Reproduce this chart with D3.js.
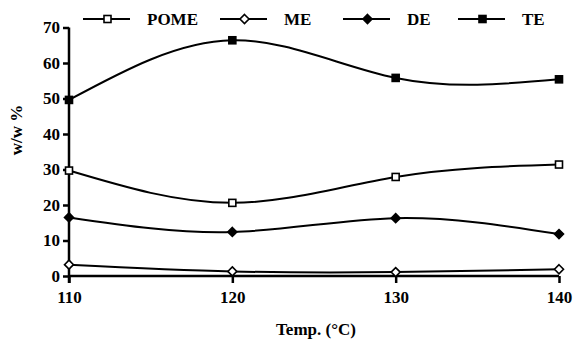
<!DOCTYPE html>
<html><head><meta charset="utf-8">
<script src="https://cdn.jsdelivr.net/npm/d3@7"></script>
</head><body style="margin:0;background:#fff"><svg id="c" width="576" height="341" style="display:block" font-family="Liberation Serif" font-weight="bold"></svg>
<script>
const temps = [110, 120, 130, 140];
const POME = [29.7, 20.6, 27.9, 31.4];
const ME = [3.2, 1.3, 1.1, 1.9];
const DE = [16.5, 12.4, 16.3, 11.8];
const TE = [49.6, 66.4, 55.8, 55.4];
const yTicks = [0, 10, 20, 30, 40, 50, 60, 70];
const xTicks = [110, 120, 130, 140];
const seriesNames = ["POME", "ME", "DE", "TE"];
const seriesData = [POME, ME, DE, TE];
const markers = ["openSquare", "openDiamond", "diamond", "square"];

const FF = "Liberation Serif";
const fsize = 17;
const svg = d3.select("#c");
const x = d3.scaleLinear().domain([110, 140]).range([69, 559]);
const y = d3.scaleLinear().domain([0, 70]).range([276, 27.5]);

function styleText(sel) {
  return sel.attr("font-family", FF).attr("font-weight", "bold").attr("font-size", fsize).attr("fill", "#000");
}

const ya = svg.append("g").attr("transform", "translate(69,0)")
  .call(d3.axisLeft(y).tickValues(yTicks).tickSize(6).tickPadding(3).tickFormat(d3.format("d")));
ya.select(".domain").attr("d", `M0,${y(70)}V${y(0)+7}`);
const xa = svg.append("g").attr("transform", "translate(0,276)")
  .call(d3.axisBottom(x).tickValues(xTicks).tickSize(7).tickPadding(8));
xa.select(".domain").attr("d", `M${x(110)},0H${x(140)}`);
ya.attr("font-family", FF).attr("font-size", fsize).attr("font-weight", "bold");
xa.attr("font-family", FF).attr("font-size", fsize).attr("font-weight", "bold");
styleText(svg.selectAll(".tick text"));
svg.selectAll(".domain, .tick line").attr("stroke", "#000").attr("stroke-width", 2.5);

styleText(svg.append("text").attr("x", 316).attr("y", 335).attr("text-anchor", "middle")).text("Temp. (°C)");
styleText(svg.append("text").attr("transform", "translate(22,130) rotate(-90)").attr("text-anchor", "middle")).text("w/w %");

const curveGen = d3.line().x((d, i) => x(temps[i])).y(d => y(d)).curve(d3.curveNatural);

function drawMarker(g, type, cx, cy) {
  if (type === "openSquare" || type === "square") {
    g.append("rect").attr("x", cx - 3.5).attr("y", cy - 3.5).attr("width", 7).attr("height", 7)
      .attr("fill", type === "square" ? "#000" : "#fff").attr("stroke", "#000").attr("stroke-width", 1.6);
  } else {
    const r = 4.5;
    g.append("path").attr("d", `M${cx},${cy - r}L${cx + r},${cy}L${cx},${cy + r}L${cx - r},${cy}Z`)
      .attr("fill", type === "diamond" ? "#000" : "#fff").attr("stroke", "#000").attr("stroke-width", 1.6);
  }
}

seriesData.forEach((vals, si) => {
  svg.append("path").datum(vals).attr("d", curveGen).attr("fill", "none").attr("stroke", "#000").attr("stroke-width", 2);
  const g = svg.append("g");
  vals.forEach((v, i) => drawMarker(g, markers[si], x(temps[i]), y(v)));
});

const legX = [83, 220, 343, 458];
const legY = 19;
seriesNames.forEach((n, i) => {
  const g = svg.append("g");
  g.append("line").attr("x1", legX[i]).attr("x2", legX[i] + 47).attr("y1", legY).attr("y2", legY).attr("stroke", "#000").attr("stroke-width", 2);
  drawMarker(g, markers[i], legX[i] + 24.5, legY);
  styleText(g.append("text").attr("x", legX[i] + 64).attr("y", legY + 6)).text(n);
});
</script></body></html>
